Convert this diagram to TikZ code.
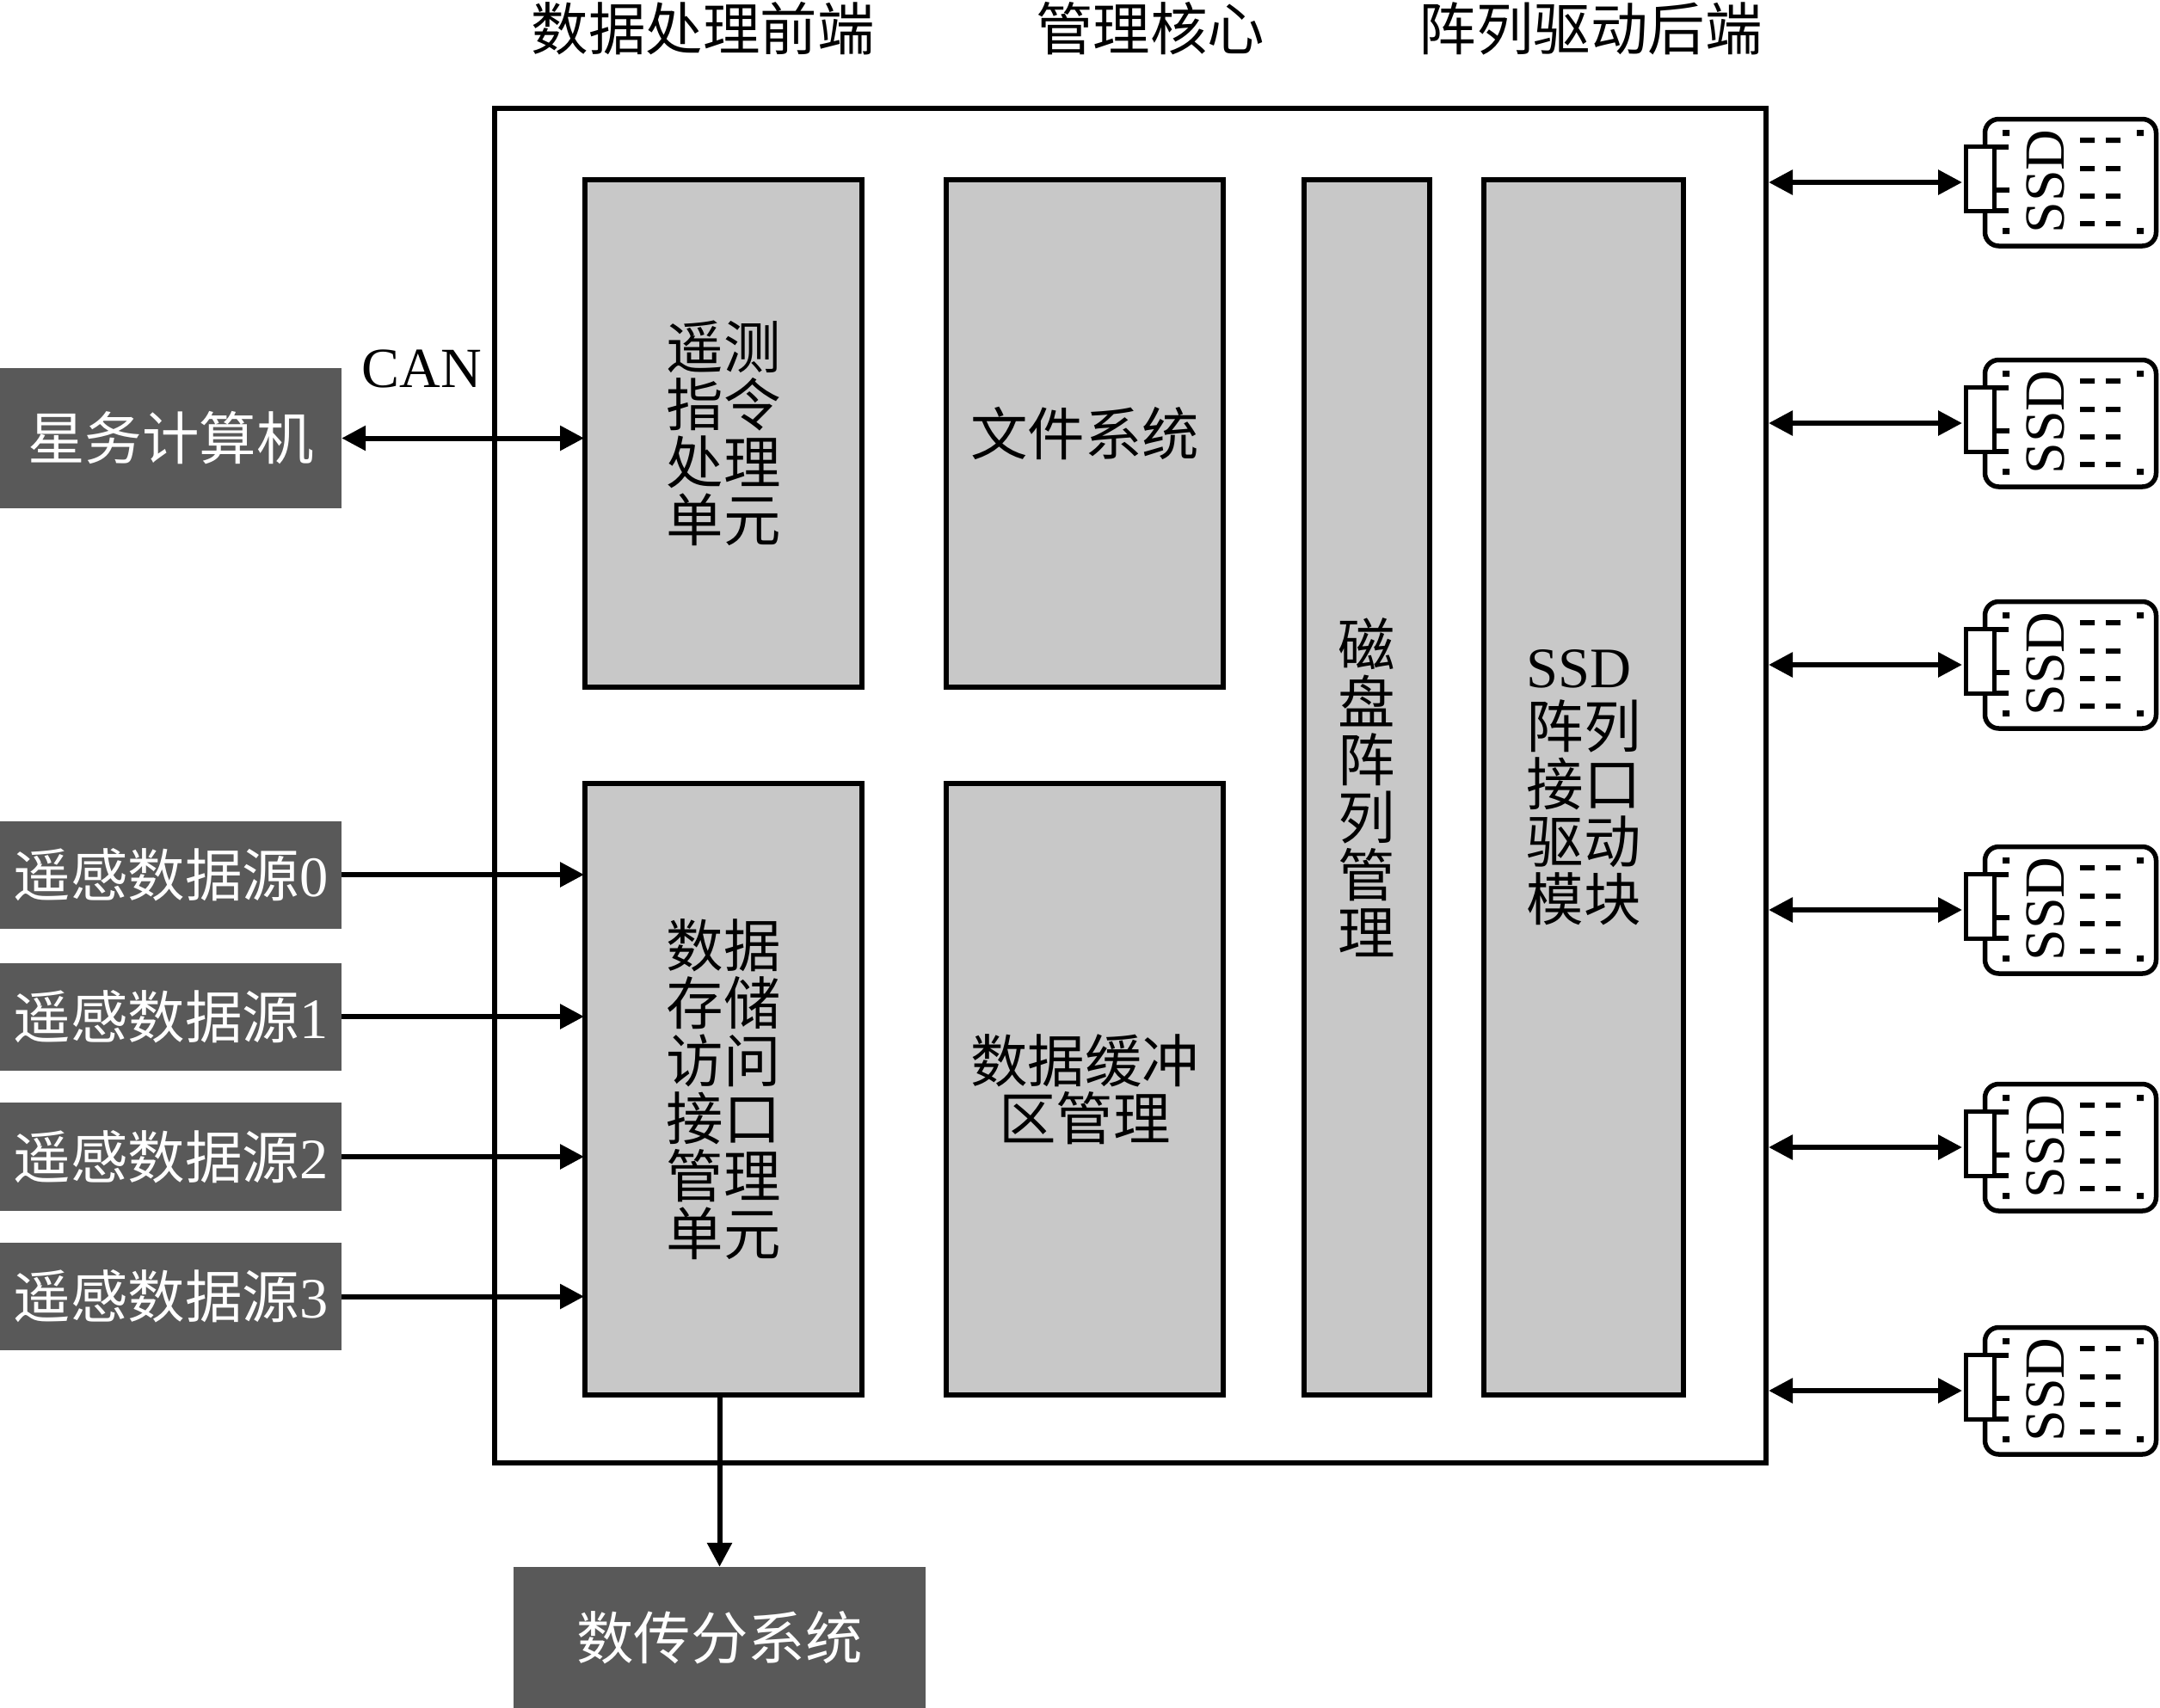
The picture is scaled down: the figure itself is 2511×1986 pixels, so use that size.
\documentclass[tikz,border=0pt]{standalone}
\usepackage{fontspec}
\setmainfont{Liberation Serif}
\newfontfamily\cjk{Noto Sans CJK SC}
\usetikzlibrary{arrows.meta}
\definecolor{darkbox}{HTML}{595959}
\definecolor{greybox}{HTML}{C8C8C8}
\tikzset{
  outerbox/.style={draw=black,fill=white,line width=6pt,inner sep=0pt},
  block/.style={draw=black,fill=greybox,line width=6pt,inner sep=0pt,align=center,
    font=\fontsize{66.5}{67}\selectfont\cjk},
  extbox/.style={fill=darkbox,text=white,inner sep=0pt,align=center,
    font=\fontsize{66.5}{67}\selectfont\cjk},
  toplabel/.style={inner sep=0pt,font=\fontsize{66.5}{67}\selectfont\cjk},
  conn/.style={line width=6pt,-{Triangle[length=28pt,width=28pt]}},
  biconn/.style={line width=6pt,{Triangle[length=28pt,width=28pt]}-{Triangle[length=28pt,width=28pt]}},
  ssdline/.style={line width=5.5pt,draw=black},
  ssdicon/.pic={
    \draw[ssdline,rounded corners=16pt] (2307.5,-73.5) rectangle (2506.5,74);
    \node[draw=black,fill=white,line width=5.5pt,inner sep=0pt,minimum width=33pt,minimum height=75pt] (-port) at (2302,-4) {};
    \coordinate (-io) at (2281,0);
    \draw[ssdline] (2319,-41) -- (2335,-41) (2319,9) -- (2336,9) (2319,33) -- (2335,33);
    \fill (2328,-61) rectangle +(8,7) (2484,-61) rectangle +(8,7)
          (2328,53) rectangle +(8,7) (2484,53) rectangle +(8,7);
    \foreach \yy in {-49,-16,16,48} {
      \fill (2418,\yy-3) rectangle +(17,6) (2448,\yy-3) rectangle +(17,6);
    }
    \node[rotate=90,inner sep=0pt,font=\fontsize{66}{67}\selectfont] (-label) at (2378,-1) {SSD};
  }
}
\begin{document}
\begin{tikzpicture}[x=1pt,y=-1pt]
\useasboundingbox (0,0) rectangle (2511,1986);
% top labels
\node[toplabel] (tfront) at (817,33) {数据处理前端};
\node[toplabel] (tcore) at (1337,33) {管理核心};
\node[toplabel] (tback) at (1849,33) {阵列驱动后端};
% main box
\node[outerbox,minimum width=1478pt,minimum height=1575pt] (main) at (1314,913.5) {};
% blocks
\node[block,minimum width=322pt,minimum height=590pt] (tele) at (841,504) {遥测\\指令\\处理\\单元};
\node[block,minimum width=322pt,minimum height=590pt] (fs) at (1261,504) {文件系统};
\node[block,minimum width=322pt,minimum height=711pt] (access) at (841,1266.5) {数据\\存储\\访问\\接口\\管理\\单元};
\node[block,minimum width=322pt,minimum height=711pt] (buf) at (1261,1266.5) {数据缓冲\\区管理};
\node[block,minimum width=146pt,minimum height=1413pt] (raid) at (1589,915.5) {磁\\盘\\阵\\列\\管\\理};
\node[block,minimum width=232pt,minimum height=1413pt,align=left] (drv) at (1841,915.5) {{\rmfamily SSD}\\[3pt]阵列\\接口\\驱动\\模块};
% external boxes
\node[extbox,minimum width=397pt,minimum height=163pt] (obc) at (198.5,509.5) {星务计算机};
\node[extbox,minimum width=397pt,minimum height=125pt] (src0) at (198.5,1017) {遥感数据源{\rmfamily 0}};
\node[extbox,minimum width=397pt,minimum height=125pt] (src1) at (198.5,1182) {遥感数据源{\rmfamily 1}};
\node[extbox,minimum width=397pt,minimum height=126pt] (src2) at (198.5,1345) {遥感数据源{\rmfamily 2}};
\node[extbox,minimum width=397pt,minimum height=125pt] (src3) at (198.5,1507.5) {遥感数据源{\rmfamily 3}};
\node[extbox,minimum width=479pt,minimum height=164pt] (dt) at (836.5,1904) {数传分系统};
\node[inner sep=0pt,font=\fontsize{66}{67}\selectfont] (can) at (490,429) {CAN};
% connectors
\draw[biconn] (obc.east) -- ([xshift=2pt]obc.east -| tele.west);
\draw[conn] (src0.east) -- ([xshift=2pt]src0.east -| access.west);
\draw[conn] (src1.east) -- ([xshift=2pt]src1.east -| access.west);
\draw[conn] (src2.east) -- ([xshift=2pt]src2.east -| access.west);
\draw[conn] (src3.east) -- ([xshift=2pt]src3.east -| access.west);
\draw[conn] (access.south -| dt.north) -- (dt.north);
% SSD icons
\pic (s1) at (0,212) {ssdicon};
\pic (s2) at (0,492) {ssdicon};
\pic (s3) at (0,773) {ssdicon};
\pic (s4) at (0,1058) {ssdicon};
\pic (s5) at (0,1334) {ssdicon};
\pic (s6) at (0,1617) {ssdicon};
\foreach \i in {1,...,6} {
  \draw[biconn] (main.east |- s\i-io) -- (s\i-io);
}
\end{tikzpicture}
\end{document}
